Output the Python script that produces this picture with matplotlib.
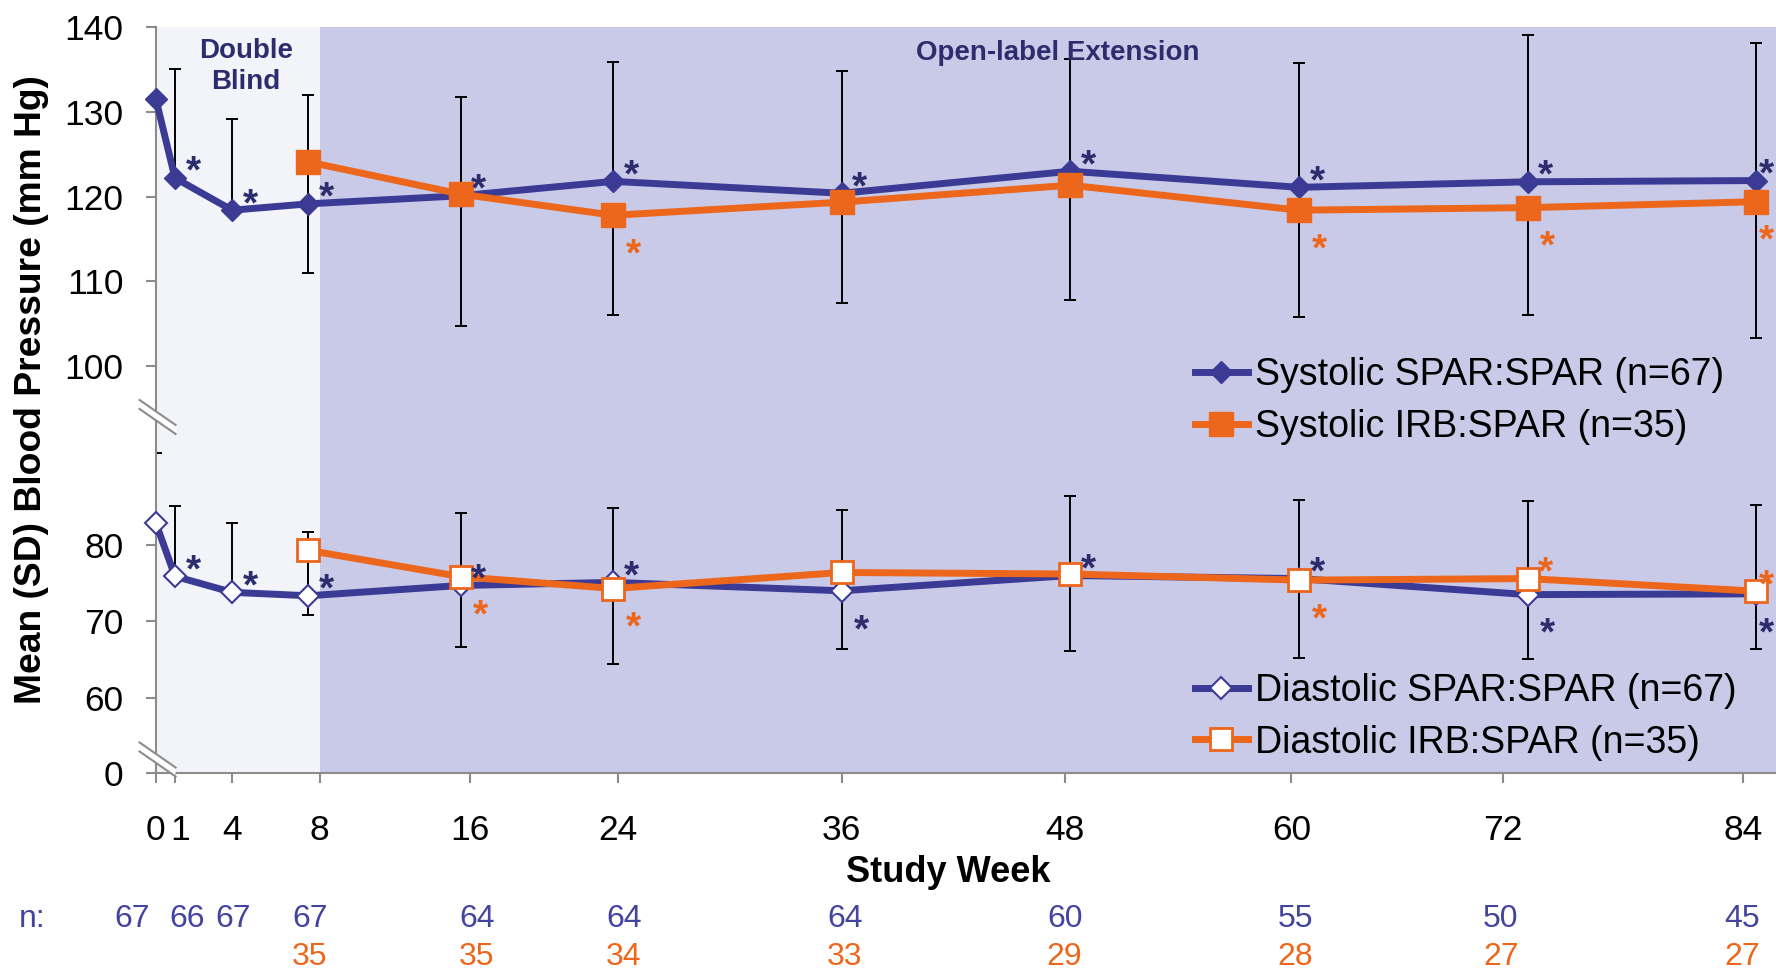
import numpy as np
import matplotlib
matplotlib.use("Agg")
import matplotlib.pyplot as plt
import matplotlib.transforms as mtransforms
from matplotlib.lines import Line2D
from matplotlib.patches import Polygon

plt.rcParams['font.family'] = ['Liberation Sans', 'DejaVu Sans']

# ---------------- data ----------------
weeks = [0, 1, 4, 8, 16, 24, 36, 48, 60, 72, 84]
weeks_irb = [8, 16, 24, 36, 48, 60, 72, 84]
week_labels = ["0", "1", "4", "8", "16", "24", "36", "48", "60", "72", "84"]

sys_spar = [131.5, 122.2, 118.4, 119.15, 120.1, 121.8, 120.4, 123.0, 121.1, 121.75, 121.9]
sys_spar_sd = [15.0, 12.9, 10.8, 12.85, 11.7, 14.1, 14.45, 13.3, 14.7, 17.35, 16.25]
sys_irb = [124.1, 120.3, 117.8, 119.35, 121.35, 118.4, 118.7, 119.4]
sys_irb_sd = [13.1, 15.55, 11.8, 11.9, 13.55, 12.6, 12.7, 16.1]

dia_spar = [82.85, 75.9, 73.8, 73.35, 74.7, 75.1, 74.0, 76.0, 75.6, 73.5, 73.6]
dia_spar_sd = [9.2, 9.2, 9.05, 8.3, 9.5, 9.7, 10.6, 10.4, 10.35, 12.3, 11.7]
dia_irb = [79.3, 75.85, 74.3, 76.4, 76.2, 75.4, 75.6, 73.95]
dia_irb_sd = [8.5, 9.25, 9.9, 10.0, 10.1, 10.15, 10.5, 7.55]

n_spar = [67, 66, 67, 67, 64, 64, 64, 60, 55, 50, 45]
n_irb = [35, 35, 34, 33, 29, 28, 27, 27]

# significance asterisks: 'up' = above right, 'down' = below right, None = none
sys_spar_star = [None, 'up', 'up', 'up', 'up', 'up', 'up', 'up', 'up', 'up', 'up']
sys_irb_star = [None, None, 'down', None, None, 'down', 'down', 'down']
dia_spar_star = [None, 'up', 'up', 'up', 'up', 'up', 'down', 'up', 'up', 'down', 'down']
dia_irb_star = [None, 'down', 'down', None, None, 'down', 'up', 'up']

# ---------------- style ----------------
NAVY = "#3B3B95"
NAVY_DARK = "#2D2D6E"
ORANGE = "#EC661C"
GRAY = "#8C8C8C"
LIGHT_BG = "#F3F4FA"
DARK_BG = "#C9CAE8"

# layout helpers (tick / label positions, not data)
tick_x = [0, 1, 4, 8.6, 16.5, 24.25, 36, 47.7, 59.6, 70.7, 83.3]
n_x = [-1.23, 1.63, 4.04, 8.08, 16.85, 24.57, 36.17, 47.7, 59.8, 70.6, 83.25]
XMAX = 85.04
DB_END = 8.6

fig = plt.figure(figsize=(17.76, 9.71), dpi=100)
ax = fig.add_axes([0.0878, 0.2034, 0.9122, 0.7685])

# broken y axis: piecewise-linear scale (diastolic part below, systolic part above)
y_knots = [-60, 0, 60, 80, 93, 100, 140, 200]
y_pix = [-75.8, 0, 75.8, 228.5, 327.7, 407.5, 746.2, 1193.4]


def fwd(v):
    return np.interp(v, y_knots, y_pix)


def inv(p):
    return np.interp(p, y_pix, y_knots)


ax.set_yscale('function', functions=(fwd, inv))
ax.set_ylim(0, 140)
ax.set_xlim(0, XMAX)

# shaded study periods
ax.axvspan(0, DB_END, color=LIGHT_BG, zorder=0, lw=0)
ax.axvspan(DB_END, XMAX, color=DARK_BG, zorder=0, lw=0)

# error bars: SPAR:SPAR shows +SD, IRB:SPAR shows -SD
eb_kw = dict(fmt='none', ecolor='black', elinewidth=1.4, capsize=4.3, capthick=1.4, zorder=2)
ax.errorbar(weeks, sys_spar, yerr=[np.zeros(len(weeks)), sys_spar_sd], **eb_kw)
ax.errorbar(weeks_irb, sys_irb, yerr=[sys_irb_sd, np.zeros(len(weeks_irb))], **eb_kw)
ax.errorbar(weeks, dia_spar, yerr=[np.zeros(len(weeks)), dia_spar_sd], **eb_kw)
ax.errorbar(weeks_irb, dia_irb, yerr=[dia_irb_sd, np.zeros(len(weeks_irb))], **eb_kw)

# lines
ax.plot(weeks, sys_spar, color=NAVY, lw=5, marker='D', ms=11, mfc=NAVY, mec=NAVY,
        zorder=3, clip_on=False)
ax.plot(weeks, dia_spar, color=NAVY, lw=5, marker='D', ms=11, mfc='white', mec=NAVY,
        mew=1.5, zorder=3, clip_on=False)
ax.plot(weeks_irb, sys_irb, color=ORANGE, lw=5, marker='s', ms=17, mfc=ORANGE, mec=ORANGE,
        zorder=4, clip_on=False)
ax.plot(weeks_irb, dia_irb, color=ORANGE, lw=5, marker='s', ms=16, mfc='white', mec=ORANGE,
        mew=2, zorder=4, clip_on=False)

# asterisks
STAR_FS = 28
rise = 0.56 * STAR_FS          # glyph centre above baseline (points)
offsets = {'up': (13.0, 12.2), 'down': (14.4, -20.5)}


def stars(xs, ys, flags, colour):
    for x, y, f in zip(xs, ys, flags):
        if f is None:
            continue
        dx, dy = offsets[f]
        if x == weeks[-1]:
            dx = 7.5    # last column sits on the right edge, pull it in a little
        ax.annotate("*", xy=(x, y), xytext=(dx, dy - rise), textcoords='offset points',
                    ha='center', va='baseline', fontsize=STAR_FS, fontweight='bold',
                    color=colour, zorder=5, annotation_clip=False)


stars(weeks, sys_spar, sys_spar_star, NAVY_DARK)
stars(weeks_irb, sys_irb, sys_irb_star, ORANGE)
stars(weeks, dia_spar, dia_spar_star, NAVY_DARK)
stars(weeks_irb, dia_irb, dia_irb_star, ORANGE)

# axes styling
for s in ['top', 'right']:
    ax.spines[s].set_visible(False)
for s in ['left', 'bottom']:
    ax.spines[s].set_color(GRAY)
    ax.spines[s].set_linewidth(1.5)

ax.set_yticks([0, 60, 70, 80, 100, 110, 120, 130, 140])
ax.set_yticklabels(["0", "60", "70", "80", "100", "110", "120", "130", "140"])
ax.set_xticks(tick_x)
ax.set_xticklabels(week_labels)
ax.tick_params(axis='y', direction='out', length=7.4, width=1.5, color=GRAY,
               labelsize=25.5, pad=16)
ax.tick_params(axis='x', direction='out', length=7, width=1.5, color=GRAY,
               labelsize=25.5, pad=22)
# nudge the "1" label a touch right so "0 1" don't run together
ax.get_xticklabels()[1].set_x(1.3)
for lab in ax.get_xticklabels()[1:2]:
    lab.set_transform(lab.get_transform() + mtransforms.ScaledTranslation(0.05, 0, fig.dpi_scale_trans))

# axis break marks
for yb in [0.4778, 0.0188]:
    tr = fig.dpi_scale_trans + mtransforms.ScaledTranslation(0.001, yb, ax.transAxes)
    hw, hh, off = 0.18, 0.125, 0.045
    band = Polygon([(-hw, hh + off), (hw, -hh + off), (hw, -hh - off), (-hw, hh - off)],
                   closed=True, facecolor='white', edgecolor='none', transform=tr,
                   clip_on=False, zorder=6)
    ax.add_patch(band)
    for o in (off, -off):
        ax.add_line(Line2D([-hw, hw], [hh + o, -hh + o], color=GRAY, lw=1.5,
                           transform=tr, clip_on=False, zorder=7))

# period labels
bt = mtransforms.blended_transform_factory(ax.transData, ax.transAxes)
ax.text(4.72, 0.9477, "Double\nBlind", transform=bt, ha='center', va='center',
        fontsize=20, fontweight='bold', color=NAVY_DARK, linespacing=1.23)
ax.text(47.35, 0.9652, "Open-label Extension", transform=bt, ha='center', va='center',
        fontsize=20, fontweight='bold', color=NAVY_DARK)

# legends
h_sys = [Line2D([], [], color=NAVY, lw=5, marker='D', ms=11, mfc=NAVY, mec=NAVY),
         Line2D([], [], color=ORANGE, lw=5, marker='s', ms=17, mfc=ORANGE, mec=ORANGE)]
h_dia = [Line2D([], [], color=NAVY, lw=5, marker='D', ms=11, mfc='white', mec=NAVY, mew=1.5),
         Line2D([], [], color=ORANGE, lw=5, marker='s', ms=16, mfc='white', mec=ORANGE, mew=2)]
leg_kw = dict(loc='center left', frameon=False, fontsize=27, borderpad=0, borderaxespad=0,
              handlelength=1.4, handletextpad=0.2, labelspacing=0.42)
leg1 = ax.legend(h_sys, ["Systolic SPAR:SPAR (n=67)", "Systolic IRB:SPAR (n=35)"],
                 bbox_to_anchor=(0.6414, 0.4991), **leg_kw)
ax.add_artist(leg1)
ax.legend(h_dia, ["Diastolic SPAR:SPAR (n=67)", "Diastolic IRB:SPAR (n=35)"],
          bbox_to_anchor=(0.6414, 0.0761), **leg_kw)

# axis titles
fig.text(32 / 1776, 1 - 390 / 971, "Mean (SD) Blood Pressure (mm Hg)", rotation=90,
         ha='center', va='center', fontsize=26.8, fontweight='bold')
fig.text(948.6 / 1776, 1 - 872 / 971, "Study Week", ha='center', va='center',
         fontsize=26, fontweight='bold')

# n row
nt = mtransforms.blended_transform_factory(ax.transData, fig.transFigure)
fig.text(32 / 1776, 1 - 918.6 / 971, "n:", ha='center', va='center', fontsize=23,
         color="#4343A0")
for x, n in zip(n_x, n_spar):
    ax.text(x, 1 - 918.6 / 971, str(n), transform=nt, ha='center', va='center',
            fontsize=23, color="#4343A0", clip_on=False)
for x, n in zip(n_x[3:], n_irb):
    ax.text(x, 1 - 957 / 971, str(n), transform=nt, ha='center', va='center',
            fontsize=23, color=ORANGE, clip_on=False)

fig.savefig("out.png", dpi=100)
